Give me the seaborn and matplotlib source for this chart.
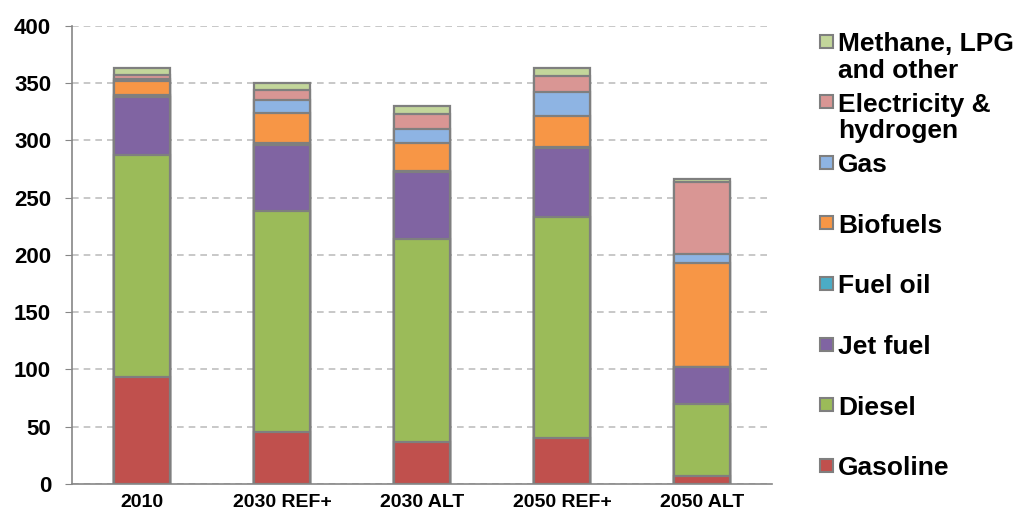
import numpy as np
import matplotlib
matplotlib.use("Agg")
import matplotlib.pyplot as plt
import seaborn as sns
from matplotlib.patches import Rectangle

sns.set_style("white")
plt.rcParams['font.family'] = ['Liberation Sans', 'DejaVu Sans']
plt.rcParams['font.weight'] = 'bold'
plt.rcParams['text.color'] = 'black'

# Dane
scenarios = ["2010", "2030 REF+", "2030 ALT", "2050 REF+", "2050 ALT"]
gasoline = [93, 45, 37, 40, 7]
diesel = [194, 193, 177, 193, 63]
jet_fuel = [51, 58, 58, 60, 32]
fuel_oil = [1.5, 2, 1, 1, 0.5]
biofuels = [12, 26, 25, 27, 90]
gas = [2, 11, 12, 21, 8]
electricity = [4, 9, 13, 14, 63]
methane = [6, 6, 7, 7, 3]

series = [
    ("Gasoline", gasoline, "#C0504D"),
    ("Diesel", diesel, "#9BBB59"),
    ("Jet fuel", jet_fuel, "#8064A2"),
    ("Fuel oil", fuel_oil, "#4BACC6"),
    ("Biofuels", biofuels, "#F79646"),
    ("Gas", gas, "#8EB4E3"),
    ("Electricity &\nhydrogen", electricity, "#D99694"),
    ("Methane, LPG\nand other", methane, "#C3D69B"),
]

W, H = 1018, 517
fig = plt.figure(figsize=(W / 100, H / 100), dpi=100)
ax = fig.add_axes([0.0707, 0.064, 0.6875, 0.886])

# Skumulowane wartości - rysujemy od góry, niższe warstwy przykrywają wyższe
cum = np.cumsum(np.array([s[1] for s in series]), axis=0)
for i in range(len(series) - 1, -1, -1):
    sns.barplot(x=scenarios, y=cum[i], color=series[i][2], width=0.4,
                edgecolor="#7F7F7F", linewidth=1.6, saturation=1, ax=ax)

ax.set_ylim(0, 400)
ax.set_yticks(range(0, 401, 50))
ax.yaxis.grid(True, linestyle=(0, (4, 3)), color="#BFBFBF", linewidth=1.2)
ax.set_axisbelow(True)
for side in ["top", "right"]:
    ax.spines[side].set_visible(False)
for side in ["left", "bottom"]:
    ax.spines[side].set_color("#868686")
    ax.spines[side].set_linewidth(1.2)
ax.tick_params(axis="y", which="both", left=True, length=5, color="#868686",
               labelsize=16, pad=10, labelcolor="black")
ax.tick_params(axis="x", bottom=False, labelsize=14, pad=4, labelcolor="black")
for lab in ax.get_xticklabels() + ax.get_yticklabels():
    lab.set_fontweight("bold")
ax.set_xlabel("")
ax.set_ylabel("")

# Legenda po prawej stronie (stałe odstępy jak w oryginale)
for i, (name, _, color) in enumerate(series[::-1]):
    yc = 41 + 60.6 * i
    fig.patches.append(Rectangle((820 / W, 1 - (yc + 6.5) / H), 13 / W, 13 / H,
                                 transform=fig.transFigure, facecolor=color,
                                 edgecolor="#7F7F7F", linewidth=1.5))
    fig.text(838 / W, 1 - (yc - 9) / H, name, va="top", ha="left",
             fontsize=19, fontweight="bold", color="black", linespacing=1.15)

fig.savefig("out.png", dpi=100)
